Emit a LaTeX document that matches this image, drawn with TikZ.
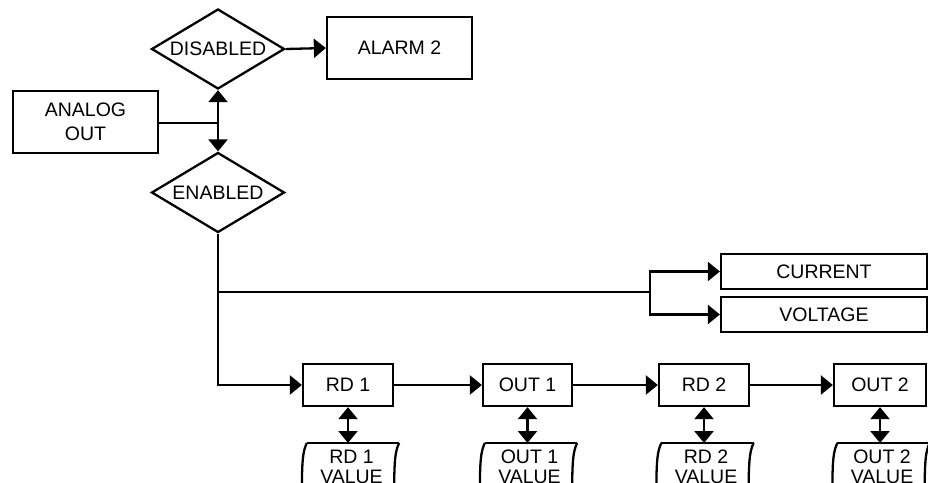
\documentclass[tikz,border=0pt]{standalone}
\usepackage{fontspec}
\setmainfont{Liberation Sans}
\usetikzlibrary{shapes.geometric,arrows.meta}
\begin{document}
\begin{tikzpicture}[x=1pt,y=-1pt,
  line width=2.3pt,
  >={Triangle[length=12pt,width=19pt]},
  every node/.style={font=\fontsize{19.5}{24}\selectfont, inner sep=0pt},
  box/.style={draw, rectangle, minimum height=#1},
  box/.default=62pt,
  dia/.style={draw, diamond, aspect=1.66, minimum width=133pt, minimum height=80pt},
  valnode/.style={rectangle, anchor=north, minimum width=97pt, minimum height=45pt, align=center, font=\fontsize{19.5}{20}\selectfont}
]
\useasboundingbox (0,0) rectangle (928,482);
\clip (0,0) rectangle (928,482);

% decision nodes
\node[dia] (dis) at (218,49) {DISABLED};
\node[dia] (en) at (218,192.5) {ENABLED};

% boxes
\node[box, minimum width=145pt, align=center] (analog) at (85.5,122) {ANALOG\\OUT};
\node[box, minimum width=145pt] (alarm) at (399.5,48) {ALARM 2};
\node[box=35pt, minimum width=206pt] (current) at (824,271.5) {CURRENT};
\node[box=35pt, minimum width=206pt] (voltage) at (824,314.5) {VOLTAGE};

\node[box=42pt, minimum width=90pt] (rd1) at (348,385) {RD 1};
\node[box=42pt, minimum width=89pt] (out1) at (527.5,385) {OUT 1};
\node[box=42pt, minimum width=90pt] (rd2) at (704,385) {RD 2};
\node[box=42pt, minimum width=92pt] (out2) at (880,385) {OUT 2};

% value (stored data) nodes
\node[valnode] (v1) at (351.5,443) {RD 1\\VALUE};
\node[valnode] (v2) at (529.5,443) {OUT 1\\VALUE};
\node[valnode] (v3) at (706,443) {RD 2\\VALUE};
\node[valnode] (v4) at (882,443) {OUT 2\\VALUE};

\foreach \v in {v1,v2,v3,v4}{
  \draw ([xshift=5pt]\v.north west) -- ([xshift=-2pt]\v.north east);
  \draw ([xshift=5pt]\v.north west) .. controls ([xshift=1pt,yshift=-8pt]\v.north west) and ([yshift=-18pt]\v.north west) .. ([yshift=-50pt]\v.north west);
  \draw ([xshift=-2pt]\v.north east) .. controls ([xshift=-6pt,yshift=-8pt]\v.north east) and ([xshift=-7pt,yshift=-18pt]\v.north east) .. ([xshift=-7pt,yshift=-50pt]\v.north east);
}

% connectors
\draw[->] (dis.east) -- (alarm.west);
\draw[<->] (dis.south) -- (en.north);
\coordinate (k) at (218,123);
\draw (analog.east |- k) -- (k);

\draw[->] (en.south) |- (rd1.west);
\coordinate (j) at (218,292);
\coordinate (b) at (650,292);
\draw (j) -- (b);
\draw[->] (b) |- (current.west);
\draw[->] (b) |- (voltage.west);

\draw[->] (rd1.east) -- (out1.west);
\draw[->] (out1.east) -- (rd2.west);
\draw[->] (rd2.east) -- (out2.west);

\draw[<->] (rd1.south) -- (rd1.south |- v1.north);
\draw[<->] (out1.south) -- (out1.south |- v2.north);
\draw[<->] (rd2.south) -- (rd2.south |- v3.north);
\draw[<->] (out2.south) -- (out2.south |- v4.north);
\end{tikzpicture}
\end{document}
